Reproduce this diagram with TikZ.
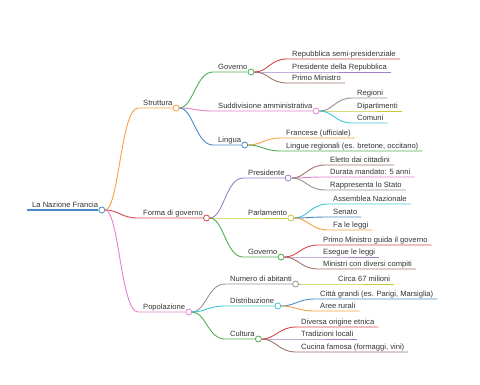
\documentclass[tikz,border=0pt]{standalone}
\usepackage{fontspec}
\setmainfont{Liberation Sans}
\usetikzlibrary{calc}
\definecolor{cBlue}{HTML}{4A8BC7}
\definecolor{cOrange}{HTML}{F7A042}
\definecolor{cGreen}{HTML}{4FAF4F}
\definecolor{cRed}{HTML}{D9474A}
\definecolor{cPurple}{HTML}{A07FCB}
\definecolor{cBrown}{HTML}{A0746A}
\definecolor{cPink}{HTML}{E680CC}
\definecolor{cGrey}{HTML}{939393}
\definecolor{cOlive}{HTML}{C8C93A}
\definecolor{cCyan}{HTML}{3CC8D6}
\definecolor{txt}{HTML}{333333}
\tikzset{
  lbl/.style={font=\fontsize{7.6}{9}\selectfont, text=txt, inner sep=0pt, anchor=base west},
  dot/.style={circle, draw=#1, fill=white, line width=0.8pt, inner sep=0pt, minimum size=6pt},
  edge/.style={#1, line width=0.9pt}
}

\begin{document}
\begin{tikzpicture}[x=1pt,y=-1pt]
  \useasboundingbox (0,0) rectangle (480,384);
  % root
  \coordinate (s-root) at (27,210);
  \node[lbl] (t-root) at ([shift={(5,-2.5)}]s-root) {La Nazione Francia};
  \path (t-root.east |- s-root) ++(3.5,0) node[dot=cBlue] (c-root) {};
  \draw[edge=cBlue, line width=1.4pt] (s-root) -- (c-root);
  % branches
  \foreach \n/\p/\x/\y/\txt/\col in {str/root/138/108/Struttura/cOrange,
                                     for/root/138/218/{Forma di governo}/cRed,
                                     pop/root/138/312/Popolazione/cPink,
                                     gova/str/213/72/Governo/cGreen,
                                     sud/str/213/111/{Suddivisione amministrativa}/cPink,
                                     lin/str/213/145/Lingua/cBlue,
                                     pre/for/243/178/Presidente/cPurple,
                                     par/for/243/218/Parlamento/cOlive,
                                     govb/for/243/257/Governo/cGreen,
                                     num/pop/225/284/{Numero di abitanti}/cGrey,
                                     dis/pop/225/306/Distribuzione/cCyan,
                                     cul/pop/225/339/Cultura/cGreen}{
     \coordinate (s-\n) at (\x,\y);
     \node[lbl] (t-\n) at ([shift={(5,-2.5)}]s-\n) {\txt};
     \path (t-\n.east |- s-\n) ++(3.5,0) node[dot=\col] (c-\n) {};
     \draw[edge=\col] (c-\p) .. controls +(17,0) and +(-17,0) .. (s-\n) -- (c-\n);
  }
  % leaves
  \foreach \p/\x/\y/\txt/\col [count=\i] in {gova/287/59/{Repubblica semi-presidenziale}/cRed,
                                             gova/287/72/{Presidente della Repubblica}/cPurple,
                                             gova/287/83/{Primo Ministro}/cBrown,
                                             sud/352/98/Regioni/cGrey,
                                             sud/352/111/Dipartimenti/cOlive,
                                             sud/352/123/Comuni/cCyan,
                                             lin/281/138/{Francese (ufficiale)}/cOrange,
                                             lin/281/151/{Lingue regionali (es. bretone, occitano)}/cGreen,
                                             pre/325/165/{Eletto dai cittadini}/cBrown,
                                             pre/325/177/{Durata mandato: 5 anni}/cPink,
                                             pre/325/190/{Rappresenta lo Stato}/cGrey,
                                             par/328/204/{Assemblea Nazionale}/cCyan,
                                             par/328/217/Senato/cBlue,
                                             par/328/230/{Fa le leggi}/cOrange,
                                             govb/318/245/{Primo Ministro guida il governo}/cRed,
                                             govb/318/257/{Esegue le leggi}/cPurple,
                                             govb/318/269/{Ministri con diversi compiti}/cBrown,
                                             num/333/284/{Circa 67 milioni}/cOlive,
                                             dis/315/299/{Città grandi (es. Parigi, Marsiglia)}/cBlue,
                                             dis/315/311/{Aree rurali}/cOrange,
                                             cul/296/327/{Diversa origine etnica}/cRed,
                                             cul/296/339/{Tradizioni locali}/cPurple,
                                             cul/296/352/{Cucina famosa (formaggi, vini)}/cBrown}{
     \coordinate (l\i) at (\x,\y);
     \node[lbl] (w\i) at ([shift={(5,-2.5)}]l\i) {\txt};
     \coordinate (e\i) at ([shift={(4,0)}]w\i.east |- l\i);
     \draw[edge=\col] (c-\p) .. controls +(17,0) and +(-17,0) .. (l\i) -- (e\i);
  }
\end{tikzpicture}
\end{document}
